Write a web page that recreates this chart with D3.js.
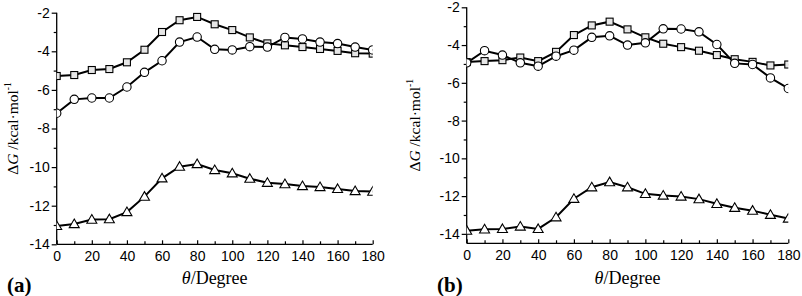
<!DOCTYPE html>
<html><head><meta charset="utf-8">
<script src="https://cdn.jsdelivr.net/npm/d3@7"></script>
<style>body{margin:0;background:#fff}svg{display:block}
.sans{font-family:Arial,"Liberation Sans",Helvetica,sans-serif}
.serif{font-family:"Times New Roman","Liberation Serif","DejaVu Serif",Times,serif}
</style>
</head><body>
<svg id="c" width="802" height="296"></svg>
<script>
const angles = [0,10,20,30,40,50,60,70,80,90,100,110,120,130,140,150,160,170,180];
const aSquares = [-5.28,-5.23,-4.97,-4.92,-4.57,-3.92,-3.0,-2.39,-2.22,-2.6,-2.9,-3.28,-3.59,-3.69,-3.78,-3.88,-3.98,-4.1,-4.12];
const aCircles = [-7.21,-6.49,-6.42,-6.42,-5.85,-5.09,-4.49,-3.52,-3.26,-3.9,-3.93,-3.76,-3.78,-3.28,-3.36,-3.52,-3.6,-3.78,-3.93];
const aTriangles = [-13.05,-12.95,-12.72,-12.7,-12.33,-11.53,-10.58,-9.98,-9.84,-10.15,-10.32,-10.6,-10.81,-10.88,-10.98,-11.03,-11.13,-11.24,-11.27];
const bSquares = [-4.9,-4.85,-4.8,-4.66,-4.85,-4.36,-3.47,-2.96,-2.76,-3.17,-3.59,-3.93,-4.11,-4.3,-4.53,-4.75,-4.89,-5.08,-5.03];
const bCircles = [-4.94,-4.3,-4.53,-4.94,-5.12,-4.59,-4.27,-3.59,-3.51,-4.0,-3.88,-3.14,-3.15,-3.3,-3.97,-4.97,-5.03,-5.74,-6.3];
const bTriangles = [-13.83,-13.76,-13.74,-13.61,-13.74,-13.12,-12.14,-11.53,-11.26,-11.53,-11.88,-11.97,-12.02,-12.16,-12.41,-12.62,-12.77,-12.99,-13.19];
const xTicks = [0,20,40,60,80,100,120,140,160,180];
const yTicks = [-14,-12,-10,-8,-6,-4,-2];
const panelLabels = ["(a)","(b)"];

const svg = d3.select("#c");
const panels = [
  {id:"a", x0:56.7, x1:372.7, y0:12.7, y1:244.3, ydom:[-14,-2], series:[aSquares,aCircles,aTriangles], titleX:18, labelX:7},
  {id:"b", x0:466.7, x1:788.3, y0:7.3, y1:243.3, ydom:[-14.5,-2], series:[bSquares,bCircles,bTriangles], titleX:420, labelX:437}
];
const shapes = ["square","circle","triangle"];

panels.forEach((p,pi)=>{
  const x = d3.scaleLinear().domain([0,180]).range([p.x0,p.x1]);
  const y = d3.scaleLinear().domain(p.ydom).range([p.y1,p.y0]);
  const g = svg.append("g");
  const clipId = "clip"+p.id;
  svg.append("defs").append("clipPath").attr("id",clipId).append("rect")
    .attr("x",p.x0).attr("y",p.y0-10).attr("width",p.x1-p.x0).attr("height",p.y1-p.y0+10);

  const yAxis = g.append("g").attr("transform",`translate(${p.x0},0)`)
    .call(d3.axisLeft(y).tickValues(yTicks).tickSize(5).tickPadding(2).tickFormat(d=>String(d)));
  const yMinor = g.append("g").attr("transform",`translate(${p.x0},0)`)
    .call(d3.axisLeft(y).tickValues(d3.range(-13,-2,2)).tickSize(3).tickFormat(""));
  yMinor.select(".domain").remove();
  const xAxis = g.append("g").attr("transform",`translate(0,${p.y1})`)
    .call(d3.axisBottom(x).tickValues(xTicks).tickSize(-4).tickPadding(6).tickFormat(d=>String(d)));
  const xMinor = g.append("g").attr("transform",`translate(0,${p.y1})`)
    .call(d3.axisBottom(x).tickValues(d3.range(10,180,20)).tickSize(-3).tickFormat(""));
  xMinor.select(".domain").remove();
  [yAxis,xAxis,yMinor,xMinor].forEach(a=>{
    a.attr("font-family",null).attr("font-size",null);
    a.selectAll(".domain").attr("stroke","#000").attr("stroke-width",1.3);
    a.selectAll(".tick line").attr("stroke","#000").attr("stroke-width",1.2);
    a.selectAll("text").attr("class","sans").style("font-size","14px").attr("fill","#000");
  });
  yAxis.select(".domain").attr("d",`M0,${p.y0}V${p.y1}`);
  xAxis.select(".domain").attr("d",`M${p.x0},0H${p.x1}`);
  xAxis.selectAll("text").attr("dy","0.72em").attr("y",7);

  const plot = g.append("g").attr("clip-path",`url(#${clipId})`);
  const line = d3.line().x((d,i)=>x(angles[i])).y(d=>y(d));
  p.series.forEach(vals=>{
    plot.append("path").datum(vals).attr("d",line)
      .attr("fill","none").attr("stroke","#000").attr("stroke-width",2);
  });
  p.series.forEach((vals,si)=>{
    const shp = shapes[si];
    const sel = plot.append("g").selectAll("g").data(vals).join("g")
      .attr("transform",(d,i)=>`translate(${x(angles[i])},${y(d)})`);
    if(shp==="square"){
      sel.append("rect").attr("x",-3.5).attr("y",-3.5).attr("width",7).attr("height",7)
        .attr("fill","#e6e6e6").attr("stroke","#000").attr("stroke-width",1.1);
    } else if(shp==="circle"){
      sel.append("circle").attr("r",4.2).attr("fill","#fff").attr("stroke","#000").attr("stroke-width",1.1);
    } else {
      sel.append("path").attr("d","M0,-5L5,3.6L-5,3.6Z").attr("fill","#fff").attr("stroke","#000").attr("stroke-width",1.1);
    }
  });

  const cx = (p.x0+p.x1)/2;
  const xt = g.append("text").attr("class","serif").attr("x",cx).attr("y",284).attr("text-anchor","middle")
    .style("font-size","18px").attr("fill","#000");
  xt.append("tspan").style("font-style","italic").text("θ");
  xt.append("tspan").text("/Degree");

  const cy = (p.y0+p.y1)/2;
  const yt = g.append("text").attr("class","serif").attr("transform",`translate(${p.titleX},${cy}) rotate(-90)`)
    .attr("text-anchor","middle").style("font-size","15.5px").attr("fill","#000");
  yt.append("tspan").text("Δ");
  yt.append("tspan").style("font-style","italic").text("G");
  yt.append("tspan").text(" /kcal·mol");
  yt.append("tspan").style("font-size","9.5px").attr("dy",-7).text("-1");

  g.append("text").attr("class","serif").attr("x",p.labelX).attr("y",292)
    .style("font-weight","bold").style("font-size","21px").attr("fill","#000").text(panelLabels[pi]);
});
</script>
</body></html>
